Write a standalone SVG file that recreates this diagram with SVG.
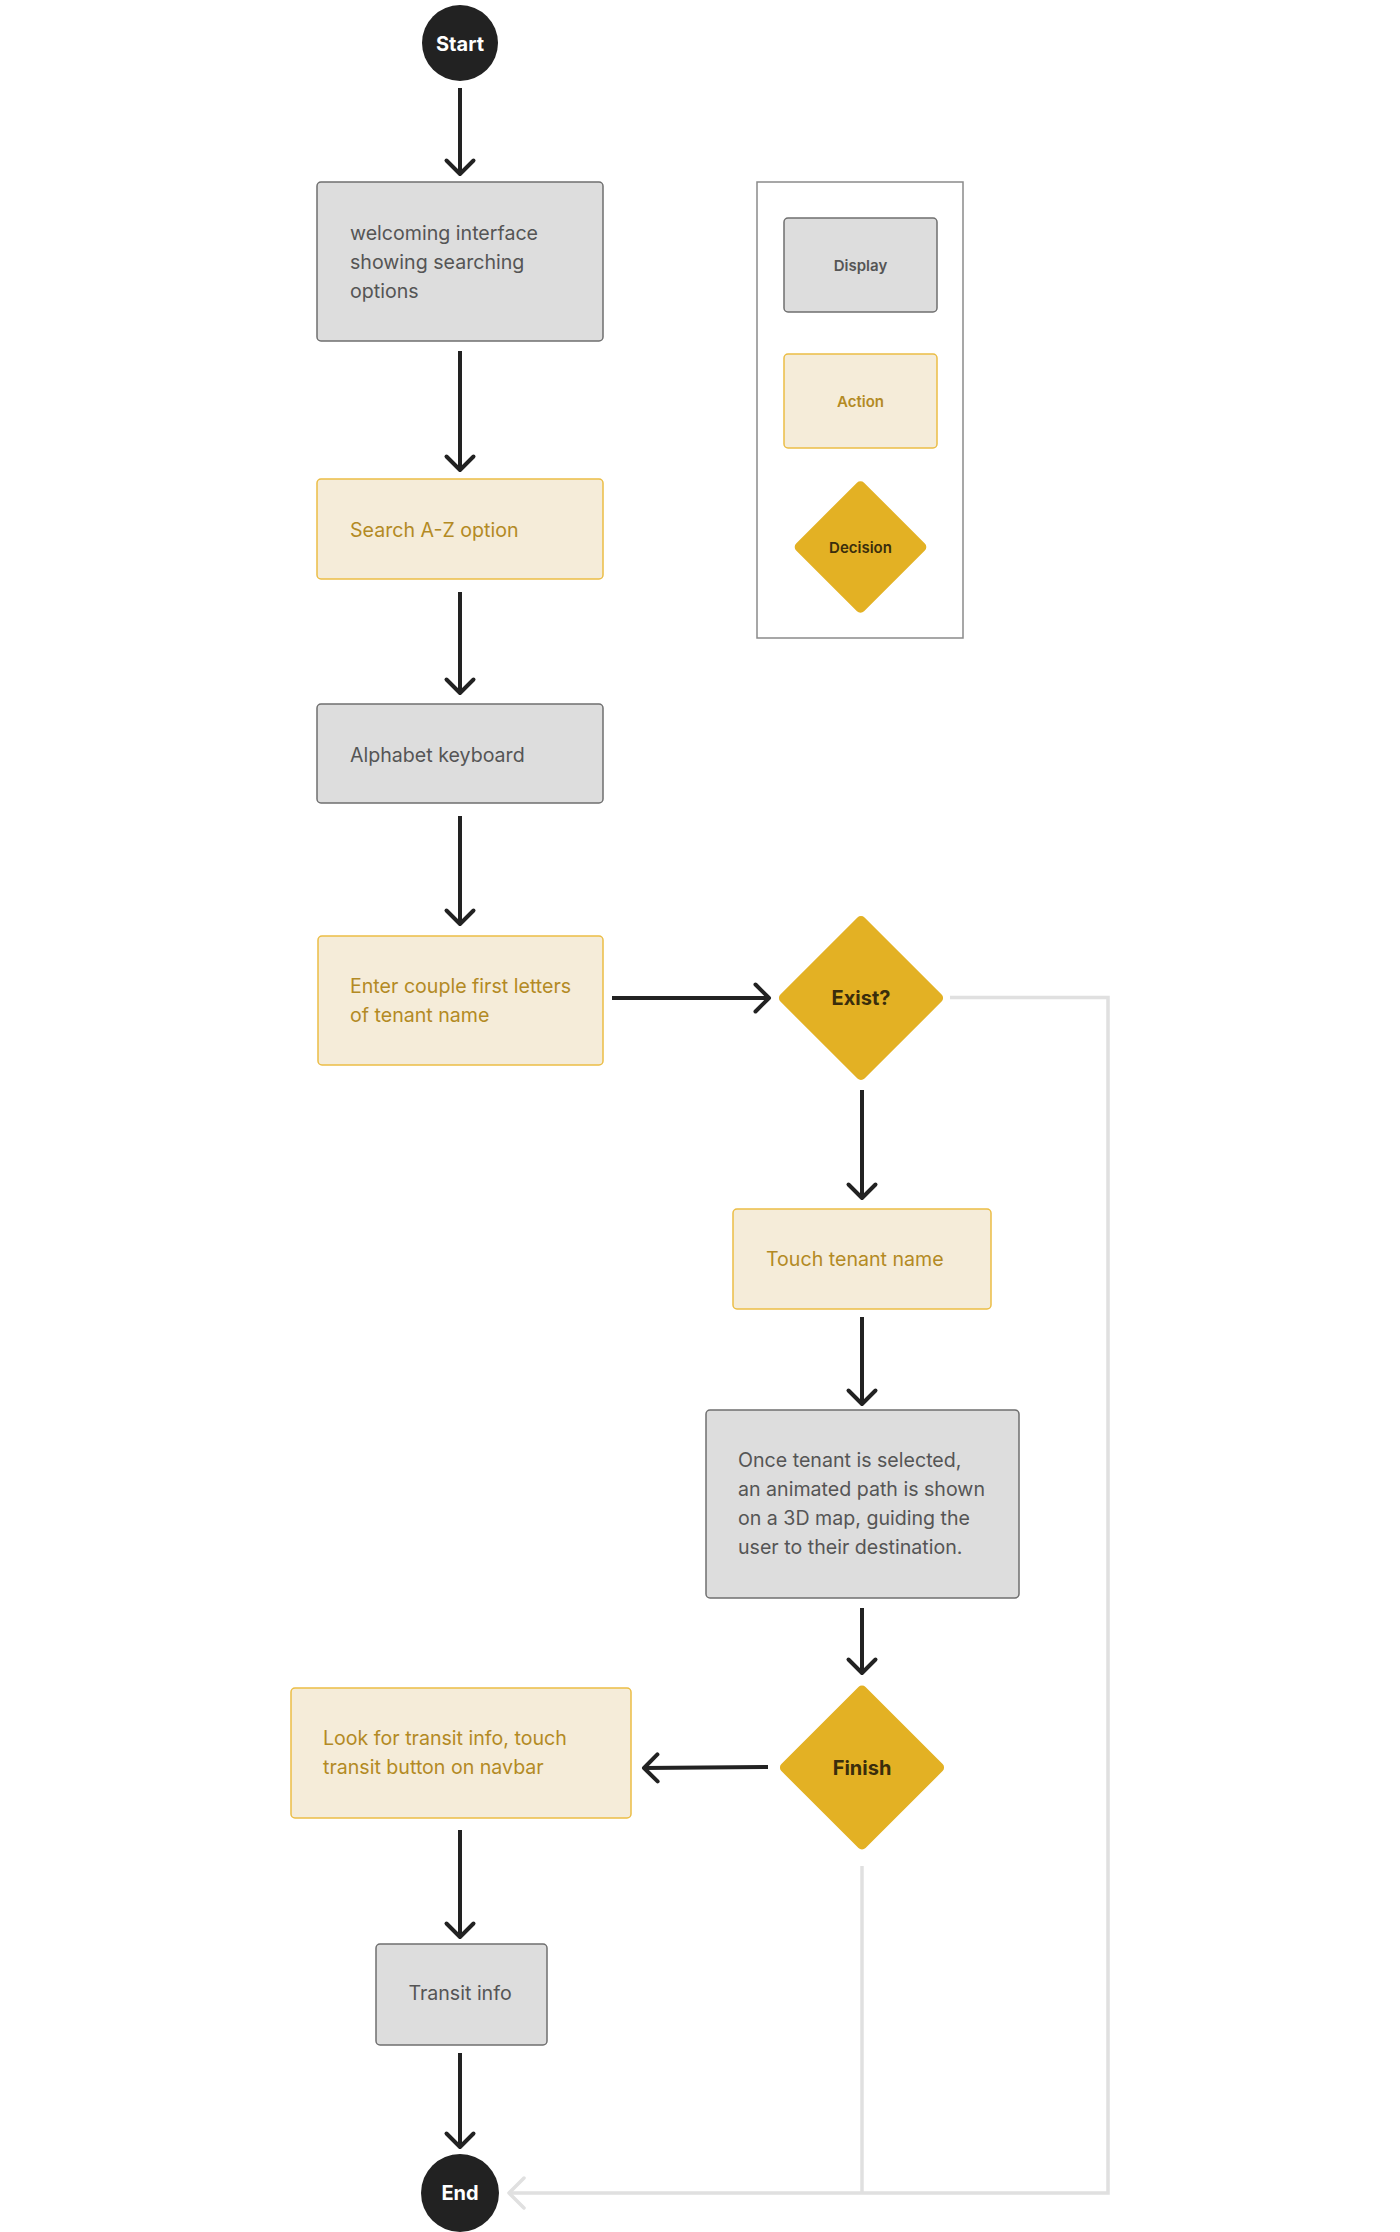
<svg xmlns="http://www.w3.org/2000/svg" width="1400" height="2232" viewBox="0 0 1400 2232">
  <style>
    .display rect { fill: #dddddd; stroke: #6f6f6f; stroke-width: 1.5; }
    .action rect { fill: #f5ecd9; stroke: #ebbd45; stroke-width: 1.5; }
    .decision rect { fill: #e3b124; }
    .terminal circle { fill: #222222; }
    text { font-family: Inter, "Liberation Sans", sans-serif; }
    .display text { fill: #555555; font-size: 19.6px; }
    .action text { fill: #b38a24; font-size: 19.6px; }
    .decision text { fill: #3a2d0c; font-size: 20px; font-weight: 700; text-anchor: middle; }
    .terminal text { fill: #ffffff; font-size: 20px; font-weight: 700; text-anchor: middle; }
    .legend text { font-size: 15px; font-weight: 600; text-anchor: middle; }
    .legend .decision text { font-size: 15px; }
    .flow { fill: none; stroke: #222222; stroke-width: 4; }
    .back { fill: none; stroke: #e0e0e0; stroke-width: 3.5; }
  </style>
  <defs>
    <marker id="arrow" markerUnits="userSpaceOnUse" viewBox="-18 -18 22 36" markerWidth="22" markerHeight="36" refX="0" refY="0" orient="auto">
      <path d="M -13.5 -13.5 L 0 0 L -13.5 13.5" fill="none" stroke="#222222" stroke-width="4" stroke-linecap="round" stroke-linejoin="round"/>
    </marker>
    <marker id="arrow-light" markerUnits="userSpaceOnUse" viewBox="-20 -20 24 40" markerWidth="24" markerHeight="40" refX="0" refY="0" orient="auto">
      <path d="M -15 -15 L 0 0 L -15 15" fill="none" stroke="#e0e0e0" stroke-width="3.5" stroke-linecap="round" stroke-linejoin="round"/>
    </marker>
  </defs>

  <rect width="1400" height="2232" fill="#ffffff"/>

  <!-- connectors -->
  <g id="connectors">
    <path class="back" d="M 950 997.5 H 1108 V 2193 H 509" marker-end="url(#arrow-light)"/>
    <path class="back" d="M 862 1866 V 2193"/>
    <path class="flow" d="M 460 88 V 174" marker-end="url(#arrow)"/>
    <path class="flow" d="M 460 351 V 470" marker-end="url(#arrow)"/>
    <path class="flow" d="M 460 592 V 693" marker-end="url(#arrow)"/>
    <path class="flow" d="M 460 816 V 924" marker-end="url(#arrow)"/>
    <path class="flow" d="M 612 998 H 769" marker-end="url(#arrow)"/>
    <path class="flow" d="M 862 1090 V 1198" marker-end="url(#arrow)"/>
    <path class="flow" d="M 862 1317 V 1404" marker-end="url(#arrow)"/>
    <path class="flow" d="M 862 1608 V 1673" marker-end="url(#arrow)"/>
    <path class="flow" d="M 768 1767 L 644 1768" marker-end="url(#arrow)"/>
    <path class="flow" d="M 460 1830 V 1937" marker-end="url(#arrow)"/>
    <path class="flow" d="M 460 2053 V 2147" marker-end="url(#arrow)"/>
  </g>

  <!-- flow nodes -->
  <g id="start" class="terminal">
    <circle cx="460" cy="43" r="38"/>
    <text x="460" y="50.5">Start</text>
  </g>

  <g id="welcome" class="display">
    <rect x="317" y="182" width="286" height="159" rx="4"/>
    <text x="350" y="240">welcoming interface</text>
    <text x="350" y="269">showing searching</text>
    <text x="350" y="298">options</text>
  </g>

  <g id="search-az" class="action">
    <rect x="317" y="479" width="286" height="100" rx="4"/>
    <text x="350" y="537">Search A-Z option</text>
  </g>

  <g id="alphabet-keyboard" class="display">
    <rect x="317" y="704" width="286" height="99" rx="4"/>
    <text x="350" y="762">Alphabet keyboard</text>
  </g>

  <g id="enter-letters" class="action">
    <rect x="318" y="936" width="285" height="129" rx="4"/>
    <text x="350" y="993">Enter couple first letters</text>
    <text x="350" y="1022">of tenant name</text>
  </g>

  <g id="exist" class="decision">
    <rect x="801.5" y="938.5" width="119" height="119" rx="5" transform="rotate(45 861 998)"/>
    <text x="861" y="1005">Exist?</text>
  </g>

  <g id="touch-tenant" class="action">
    <rect x="733" y="1209" width="258" height="100" rx="4"/>
    <text x="766" y="1266">Touch tenant name</text>
  </g>

  <g id="animated-path" class="display">
    <rect x="706" y="1410" width="313" height="188" rx="4"/>
    <text x="738" y="1467">Once tenant is selected,</text>
    <text x="738" y="1496">an animated path is shown</text>
    <text x="738" y="1525">on a 3D map, guiding the</text>
    <text x="738" y="1554">user to their destination.</text>
  </g>

  <g id="finish" class="decision">
    <rect x="802.5" y="1708" width="119" height="119" rx="5" transform="rotate(45 862 1767.5)"/>
    <text x="862" y="1775">Finish</text>
  </g>

  <g id="transit-lookup" class="action">
    <rect x="291" y="1688" width="340" height="130" rx="4"/>
    <text x="323" y="1745">Look for transit info, touch</text>
    <text x="323" y="1774">transit button on navbar</text>
  </g>

  <g id="transit-info" class="display">
    <rect x="376" y="1944" width="171" height="101" rx="4"/>
    <text x="460" y="2000" text-anchor="middle">Transit info</text>
  </g>

  <g id="end" class="terminal">
    <circle cx="460" cy="2193" r="39"/>
    <text x="460" y="2200">End</text>
  </g>

  <!-- legend -->
  <g id="legend" class="legend">
    <rect x="757" y="182" width="206" height="456" fill="none" stroke="#8a8a8a" stroke-width="1.5"/>
    <g id="legend-display" class="display">
      <rect x="784" y="218" width="153" height="94" rx="4"/>
      <text x="860.5" y="271">Display</text>
    </g>
    <g id="legend-action" class="action">
      <rect x="784" y="354" width="153" height="94" rx="4"/>
      <text x="860.5" y="407">Action</text>
    </g>
    <g id="legend-decision" class="decision">
      <rect x="812.5" y="499" width="96" height="96" rx="5" transform="rotate(45 860.5 547)"/>
      <text x="860.5" y="553">Decision</text>
    </g>
  </g>
</svg>
